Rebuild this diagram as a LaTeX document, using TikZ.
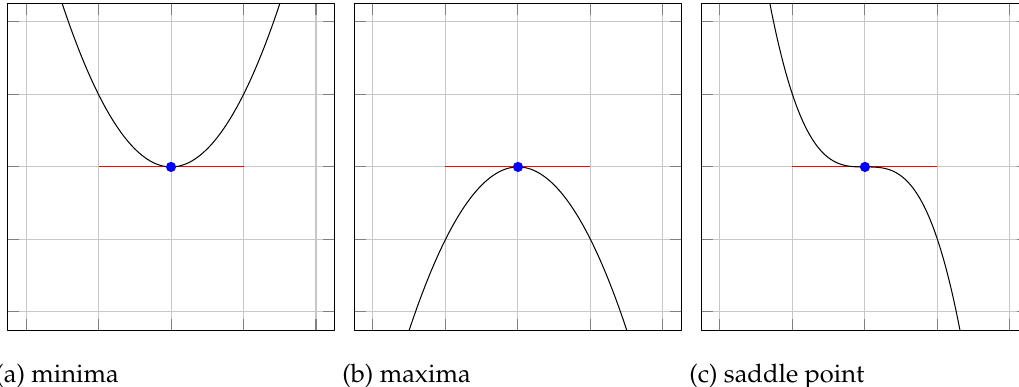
\documentclass[tikz,border=0pt]{standalone}
\usepackage[T1]{fontenc}
\usepackage{mathpazo}
\usepackage{xcolor}
\usepackage{tikz}
\tikzset{
  cp diagram/.style={line cap=butt, line join=round},
  cp frame/.style={draw=black, line width=0.4pt},
  cp grid/.style={draw=black!22, line width=0.4pt},
  cp tick/.style={draw=black!50, line width=0.4pt},
  cp curve/.style={draw=black, line width=0.4pt},
  cp tangent/.style={draw=red, line width=0.4pt},
  cp point/.style={circle, fill=blue, inner sep=0pt, minimum size=4pt},
  cp caption/.style={anchor=base west, inner sep=0pt}
}

\begin{document}
\begin{tikzpicture}[cp diagram]
\useasboundingbox (-2.359,-3.034) rectangle (11.697,2.303);
\foreach \shift/\tag/\title/\fx in {0/a/minima/{(\x)*(\x)},4.786/b/maxima/{-(\x)*(\x)},9.572/c/saddle point/{-(\x)*(\x)*(\x)}}{
  \begin{scope}[xshift=\shift cm]
  \draw[cp grid] (-2.25,-2.25) grid (2.25,2.25);
  \foreach \t in {-2,...,2}{
    \draw[cp tick] (\t,-2.25) -- ++(0,0.15);
    \draw[cp tick] (\t,2.25) -- ++(0,-0.15);
    \draw[cp tick] (-2.25,\t) -- ++(0.15,0);
    \draw[cp tick] (2.25,\t) -- ++(-0.15,0);
  }
  \draw[cp tangent] (-1,0) -- (1,0);
  \begin{scope}
    \clip (-2.25,-2.25) rectangle (2.25,2.25);
    \draw[cp curve] plot[domain=-2.25:2.25, samples=151, smooth] (\x,{\fx});
  \end{scope}
  \node[cp point] (pt\tag) at (0,0) {};
  \draw[cp frame] (-2.25,-2.25) rectangle (2.25,2.25);
  \node[cp caption] (cap\tag) at (-2.43,-2.98) {(\tag) \title};
  \end{scope}
}
\end{tikzpicture}
\end{document}
